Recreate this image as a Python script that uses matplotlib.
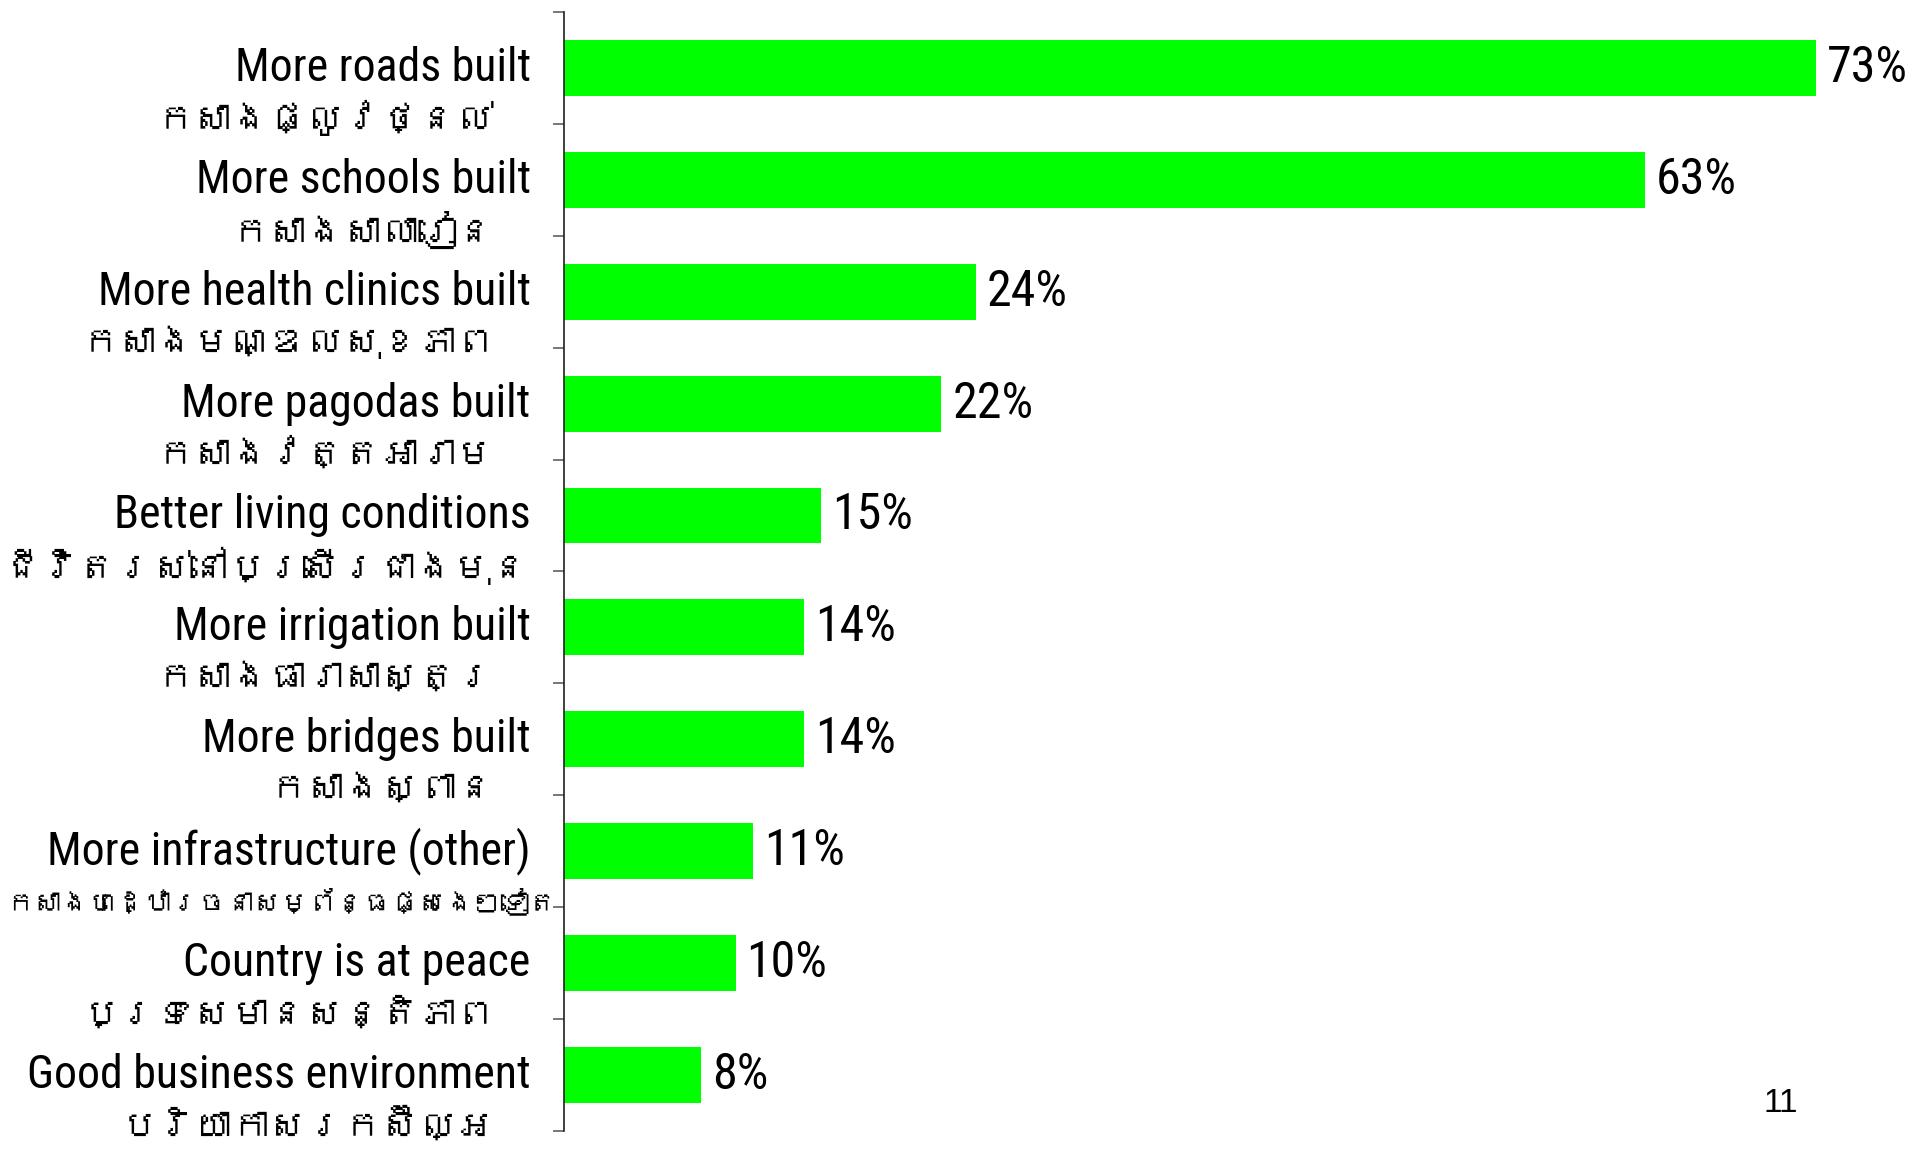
import numpy as np
import matplotlib
matplotlib.use("Agg")
import matplotlib.pyplot as plt
from matplotlib import font_manager
from matplotlib.font_manager import FontProperties
from matplotlib.ft2font import FT2Font

# answers, English line and Khmer line
labels_en = ["More roads built", "More schools built", "More health clinics built",
             "More pagodas built", "Better living conditions", "More irrigation built",
             "More bridges built", "More infrastructure (other)", "Country is at peace",
             "Good business environment"]
labels_km = ["កសាងផ្លូវថ្នល់", "កសាងសាលារៀន", "កសាងមណ្ឌលសុខភាព",
             "កសាងវត្តអារាម", "ជីវិតរស់នៅប្រសើរជាងមុន", "កសាងធារាសាស្ត្រ",
             "កសាងស្ពាន", "កសាងហេដ្ឋារចនាសម្ព័ន្ធផ្សេងៗទៀត", "ប្រទេសមានសន្តិភាព",
             "បរិយាកាសរកស៊ីល្អ"]
values = [73, 63, 24, 22, 15, 14, 14, 11, 10, 8]
page_no = "11"


def narrow_font():
    # a condensed sans face if one is installed, else None
    fonts = font_manager.fontManager.ttflist
    for want in ["Liberation Sans Narrow", "Arial Narrow", "DejaVu Sans Condensed",
                 "Roboto Condensed", "Open Sans Condensed"]:
        for f in fonts:
            if f.name == want and f.style == "normal" and f.weight in (400, "normal", "regular"):
                return f.fname
    for f in fonts:
        st = str(f.stretch).lower()
        if ("condensed" in st or "narrow" in f.name.lower()) and "extra" not in st \
                and "ultra" not in st and f.style == "normal" and f.weight in (400, "normal", "regular"):
            if "sans" in f.name.lower() or "dejavu" in f.name.lower():
                return f.fname
    return None


def khmer_font():
    # first installed font that has Khmer glyphs, if any
    for f in font_manager.fontManager.ttflist:
        try:
            if 0x1780 in FT2Font(f.fname).get_charmap():
                return f.name
        except Exception:
            pass
    return None


npath = narrow_font()
if npath:
    lab_fp = FontProperties(fname=npath, size=33)
    val_fp = FontProperties(fname=npath, size=36)
else:
    lab_fp = FontProperties(family="Liberation Sans", size=29.5)
    val_fp = FontProperties(family="Liberation Sans", size=30)
km = khmer_font()
km_family = [km] if km else ["DejaVu Sans"]

fig = plt.figure(figsize=(19.15, 11.59), dpi=100)
ax = fig.add_axes([0.2945, 0.0242, 0.6987, 0.9655])

y = np.arange(len(values))
ax.barh(y, values, height=0.5, color="#00ff00", edgecolor="none")
ax.set_ylim(len(values) - 0.5, -0.5)
ax.set_xlim(0, 78)

for s in ["top", "right", "bottom"]:
    ax.spines[s].set_visible(False)
ax.spines["left"].set_color("#202020")
ax.spines["left"].set_linewidth(1.2)
ax.set_xticks([])
ax.set_yticks(np.arange(-0.5, len(values), 1))
ax.set_yticklabels([])
ax.tick_params(axis="y", direction="out", length=8, width=1.2, color="#606060")

ytr = ax.get_yaxis_transform()
km_texts = []
for i, (en, kh, v) in enumerate(zip(labels_en, labels_km, values)):
    ax.annotate(en, xy=(0, i), xycoords=ytr, xytext=(-24, 0), textcoords="offset points",
                ha="right", va="center", fontproperties=lab_fp)
    t = ax.annotate(kh, xy=(0, i + 0.45), xycoords=ytr, xytext=(-50, 0), textcoords="offset points",
                    ha="right", va="center", family=km_family, fontsize=27)
    km_texts.append(t)
    ax.annotate(f"{v}%", xy=(v, i), xytext=(8, 0), textcoords="offset points",
                ha="left", va="center", fontproperties=val_fp)

# long Khmer lines: slide right towards the axis, then shrink, so they stay on the page
fig.canvas.draw()
r = fig.canvas.get_renderer()
px = fig.dpi / 72
for t in km_texts:
    bb = t.get_window_extent(r)
    if bb.x0 < 4:
        dx = min(4 - bb.x0, 44 * px)
        ox, oy = t.xyann
        t.xyann = (ox + dx / px, oy)
        bb = t.get_window_extent(r)
        if bb.x0 < 4:
            t.set_fontsize(t.get_fontsize() * (bb.x1 - 4) / bb.width)

fig.text(0.930, 0.048, page_no, ha="center", va="center", fontsize=24, family="Liberation Sans")

fig.savefig("out.png", dpi=100)
